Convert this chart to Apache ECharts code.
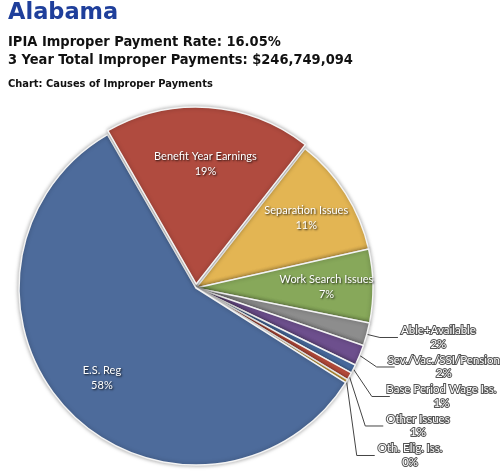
<!DOCTYPE html>
<html>
<head>
<meta charset="utf-8">
<script src="https://cdn.jsdelivr.net/npm/echarts@6/dist/echarts.min.js"></script>
<style>
  html, body { margin: 0; padding: 0; background: #fff; }
  #chart { width: 500px; height: 473px; }
</style>
</head>
<body>
<div id="chart"></div>
<script>
const causes = ['Benefit Year Earnings', 'Separation Issues', 'Work Search Issues', 'Able+Available',
  'Sev./Vac./SSI/Pension', 'Base Period Wage Iss.', 'Other Issues', 'Oth. Elig. Iss.', 'E.S. Reg'];
const shares = [18.9, 10.9, 6.7, 2.1, 1.9, 0.8, 0.7, 0.3, 57.7];
const sliceColors = ['#b04b3f', '#e3b553', '#87a85a', '#8d8d8d', '#6d4f8d', '#4b6fa5', '#c0503f', '#e0b040', '#4d6b9b'];
const bigSlices = ['Benefit Year Earnings', 'Separation Issues', 'Work Search Issues', 'E.S. Reg'];

const chart = echarts.init(document.getElementById('chart'));

const pct = (p) => `${p.name}\n${Math.round(p.percent)}%`;
const pctRich = (p) => `{n|${p.name}}\n{n|${Math.round(p.percent)}%}`;

const baseData = causes.map((name, i) => ({
  name,
  value: shares[i],
  selected: i === 0,
  itemStyle: { color: sliceColors[i] },
  label: { show: !bigSlices.includes(name) },
  labelLine: { show: !bigSlices.includes(name) },
}));

const labelData = causes.map((name, i) => ({
  name,
  value: shares[i],
  selected: i === 0,
  label: { show: bigSlices.includes(name) },
}));

const headStyle = { fontFamily: 'DejaVu Sans Condensed', fontWeight: 'bold', fontSize: 14.5, color: '#111' };

chart.setOption({
  animation: false,
  title: [
    { text: 'Alabama', left: 8, top: 2, padding: 0,
      textStyle: { fontFamily: 'DejaVu Sans', fontWeight: 'bold', fontSize: 22.5, color: '#1f3f9b' } },
    { text: 'IPIA Improper Payment Rate: 16.05%', left: 8, top: 35, padding: 0, textStyle: headStyle },
    { text: '3 Year Total Improper Payments: $246,749,094', left: 8, top: 53, padding: 0, textStyle: headStyle },
    { text: 'Chart: Causes of Improper Payments', left: 8, top: 79, padding: 0,
      textStyle: { fontFamily: 'DejaVu Sans Condensed', fontWeight: 'bold', fontSize: 11, color: '#111' } },
  ],
  series: [
    {
      type: 'pie',
      center: [196, 288],
      radius: [0, 177],
      startAngle: 120,
      clockwise: true,
      selectedMode: 'single',
      selectedOffset: 4,
      silent: true,
      itemStyle: {
        borderColor: '#f4f4f4', borderWidth: 1.5,
        shadowBlur: 4, shadowColor: 'rgba(0,0,0,0.35)',
      },
      label: {
        position: 'outside',
        formatter: pctRich,
        overflow: 'none',
        distanceToLabelLine: 3,
        rich: {
          n: {
            align: 'center', fontFamily: 'Lato', fontSize: 11.5, lineHeight: 13.5,
            color: '#fff', textBorderColor: '#555', textBorderWidth: 2,
          },
        },
      },
      labelLine: {
        length: 12, length2: 18,
        lineStyle: { color: '#444', width: 1 },
      },
      data: baseData,
    },
    {
      type: 'pie',
      center: [196, 288],
      radius: [78, 177],
      startAngle: 120,
      clockwise: true,
      selectedMode: 'single',
      selectedOffset: 4,
      silent: true,
      itemStyle: { color: 'transparent' },
      label: {
        position: 'inside',
        formatter: pct,
        fontFamily: 'Lato', fontSize: 11, lineHeight: 15,
        color: '#fff',
        textShadowColor: 'rgba(0,0,0,0.85)', textShadowBlur: 2,
        textShadowOffsetX: 1, textShadowOffsetY: 1,
      },
      labelLine: { show: false },
      labelLayout: (p) => (p.dataIndex === 0 ? { dy: 10 } : {}),
      data: labelData,
    },
  ],
});

window.addEventListener('resize', () => chart.resize());
</script>
</body>
</html>
